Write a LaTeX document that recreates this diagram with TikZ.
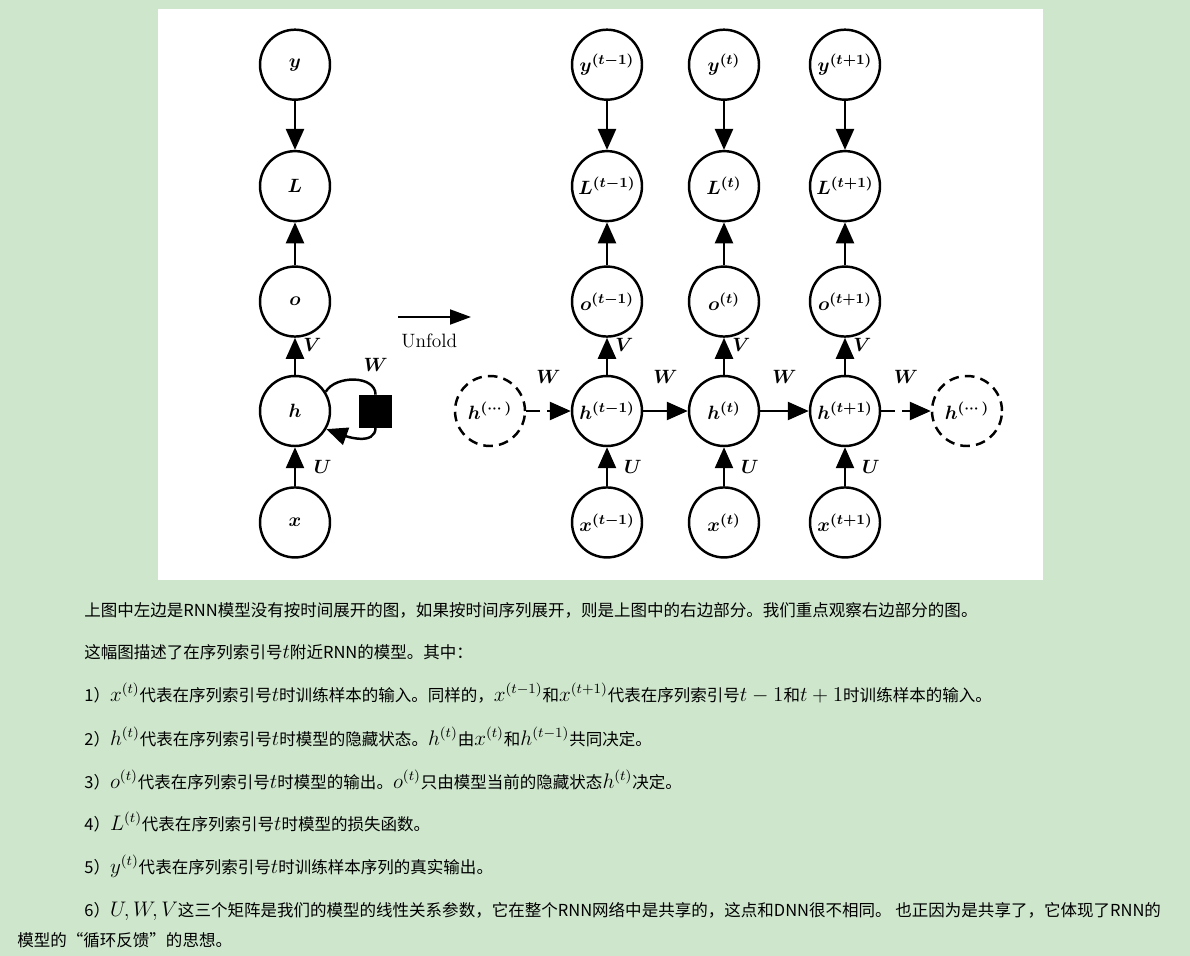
\documentclass[tikz,border=0pt]{standalone}
\usepackage{amsmath,bm}
\usepackage{fontspec}
\newfontfamily\cjk{Noto Sans CJK SC}
\usetikzlibrary{arrows.meta,positioning}
\definecolor{bggreen}{RGB}{206,231,204}
\newcommand\mj[1]{{\fontsize{12}{13}\selectfont$#1$}}
\tikzset{c/.style={draw,circle,line width=1.4pt,minimum size=1.4cm,inner sep=0pt,font=\fontsize{11}{13}\selectfont},
 dc/.style={c,dash pattern=on 5.5pt off 3.5pt},
 sq/.style={draw,fill=black,minimum size=0.64cm,inner sep=0pt},
 ar/.style={line width=1.4pt,-{Triangle[length=0.42cm,width=0.36cm]}},
 lb/.style={font=\fontsize{11}{13}\selectfont,inner sep=1pt},
 tx/.style={anchor=base west,inner sep=0pt,font=\cjk\fontsize{9.4}{11}\selectfont}}
\begin{document}
\begin{tikzpicture}[x=0.02cm,y=-0.02cm]
\fill[bggreen](0,0)rectangle(1190,956);\fill[white](158,9)rectangle(1043,580);
\node[c](h)at(295,411){$\bm{h}$};\node[c,above=0.74cm of h](o){$\bm{o}$};\node[c,above=0.86cm of o](L){$\bm{L}$};
\node[c,above=0.98cm of L](y){$\bm{y}$};\node[c,below=0.78cm of h](x){$\bm{x}$};\node[sq,right=0.56cm of h](s){};
\draw[ar](y)--(L);\draw[ar](o)--(L);\draw[ar](h)--node[lb,right=3pt,pos=0.8]{$\bm{V}$}(o);\draw[ar](x)--node[lb,right=9pt]{$\bm{U}$}(h);
\draw[line width=1.4pt](h.32)to[out=60,in=90](s.north);\draw[ar](s.south)to[out=-90,in=-20](h.-30);\node[lb,above=0.42cm of s](w0){$\bm{W}$};
\coordinate(u1)at(398,317);\coordinate(u2)at(471,317);
\draw[line width=1.1pt,-{Triangle[length=0.42cm,width=0.3cm]}](u1)--node[below=0.2cm,xshift=-3pt,font=\fontsize{11}{13}\selectfont]{Unfold}(u2);
\node[c](h1)at(607,411){$\bm{h^{(t-1)}}$};\node[c](h2)at(724,411){$\bm{h^{(t)}}$};\node[c](h3)at(845,411){$\bm{h^{(t+1)}}$};
\node[dc](hl)at(490,411){$\bm{h^{(\cdots)}}$};\node[dc](hr)at(967,411){$\bm{h^{(\cdots)}}$};
\node[c,above=0.74cm of h1](o1){$\bm{o^{(t-1)}}$};\node[c,above=0.74cm of h2](o2){$\bm{o^{(t)}}$};\node[c,above=0.74cm of h3](o3){$\bm{o^{(t+1)}}$};
\node[c,above=0.86cm of o1](L1){$\bm{L^{(t-1)}}$};\node[c,above=0.86cm of o2](L2){$\bm{L^{(t)}}$};\node[c,above=0.86cm of o3](L3){$\bm{L^{(t+1)}}$};
\node[c,above=0.98cm of L1](y1){$\bm{y^{(t-1)}}$};\node[c,above=0.98cm of L2](y2){$\bm{y^{(t)}}$};\node[c,above=0.98cm of L3](y3){$\bm{y^{(t+1)}}$};
\node[c,below=0.78cm of h1](x1){$\bm{x^{(t-1)}}$};\node[c,below=0.78cm of h2](x2){$\bm{x^{(t)}}$};\node[c,below=0.78cm of h3](x3){$\bm{x^{(t+1)}}$};
\draw[ar](y1)--(L1);\draw[ar](y2)--(L2);\draw[ar](y3)--(L3);\draw[ar](o1)--(L1);\draw[ar](o2)--(L2);\draw[ar](o3)--(L3);
\draw[ar](h1)--node[lb,right=3pt,pos=0.8]{$\bm{V}$}(o1);\draw[ar](h2)--node[lb,right=3pt,pos=0.8]{$\bm{V}$}(o2);\draw[ar](h3)--node[lb,right=3pt,pos=0.8]{$\bm{V}$}(o3);
\draw[ar](x1)--node[lb,right=8pt]{$\bm{U}$}(h1);\draw[ar](x2)--node[lb,right=8pt]{$\bm{U}$}(h2);\draw[ar](x3)--node[lb,right=8pt]{$\bm{U}$}(h3);
\draw[ar,dash pattern=on 8pt off 4pt](hl)--node[lb,above=0.5cm]{$\bm{W}$}(h1);\draw[ar](h1)--node[lb,above=0.5cm]{$\bm{W}$}(h2);
\draw[ar](h2)--node[lb,above=0.5cm]{$\bm{W}$}(h3);\draw[ar,dash pattern=on 8pt off 4pt](h3)--node[lb,above=0.5cm]{$\bm{W}$}(hr);
% text below the figure
\node[tx](t1)at(84,616){上图中左边是RNN模型没有按时间展开的图，如果按时间序列展开，则是上图中的右边部分。我们重点观察右边部分的图。};
\node[tx](t2)at(84,658){这幅图描述了在序列索引号\mj{t}附近RNN的模型。其中：};
\node[tx](t3)at(84,701){1）\mj{x^{(t)}}代表在序列索引号\mj{t}时训练样本的输入。同样的，\mj{x^{(t-1)}}和\mj{x^{(t+1)}}代表在序列索引号\mj{t-1}和\mj{t+1}时训练样本的输入。};
\node[tx](t4)at(84,745){2）\mj{h^{(t)}}代表在序列索引号\mj{t}时模型的隐藏状态。\mj{h^{(t)}}由\mj{x^{(t)}}和\mj{h^{(t-1)}}共同决定。};
\node[tx](t5)at(84,788){3）\mj{o^{(t)}}代表在序列索引号\mj{t}时模型的输出。\mj{o^{(t)}}只由模型当前的隐藏状态\mj{h^{(t)}}决定。};
\node[tx](t6)at(84,830){4）\mj{L^{(t)}}代表在序列索引号\mj{t}时模型的损失函数。};
\node[tx](t7)at(84,873){5）\mj{y^{(t)}}代表在序列索引号\mj{t}时训练样本序列的真实输出。};
\node[tx](t8)at(84,916){6）\mj{U,W,V}这三个矩阵是我们的模型的线性关系参数，它在整个RNN网络中是共享的，这点和DNN很不相同。 也正因为是共享了，它体现了RNN的};
\node[tx](t9)at(17,946){模型的“循环反馈”的思想。};
\end{tikzpicture}
\end{document}
